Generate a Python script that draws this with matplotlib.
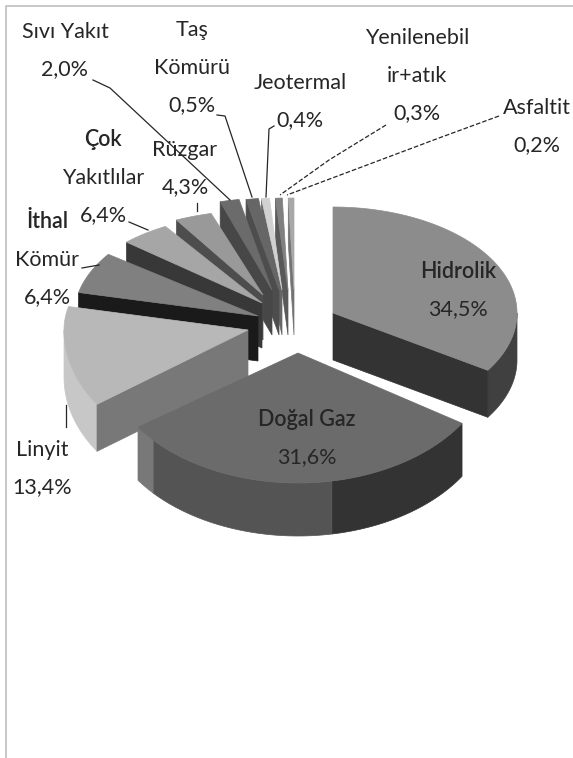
import numpy as np
import matplotlib
matplotlib.use("Agg")
import matplotlib.pyplot as plt
from matplotlib.patches import Polygon

plt.rcParams['font.family'] = ['Lato', 'DejaVu Sans']

# printed shares
labels = ["Hidrolik", "Doğal Gaz", "Linyit", "İthal\nKömür", "Çok\nYakıtlılar", "Rüzgar",
          "Sıvı Yakıt", "Taş\nKömürü", "Jeotermal", "Yenilenebil\nir+atık", "Asfaltit"]
values = [34.5, 31.6, 13.4, 6.4, 6.4, 4.3, 2.0, 0.5, 0.4, 0.3, 0.2]
# the source draws the thin slices wider than they are printed
drawn_values = [34.5, 31.6, 13.4, 6.4, 6.4, 4.3, 1.7, 1.1, 0.7, 0.6, 0.5]

# look of the slices
top_shade = [.55, .42, .72, .50, .65, .60, .42, .40, .82, .50, .66]
wall_shade = [.20, .33, .47, .10, .22, .30, .28, .30, .40, .35, .45]
outer_shade = [.25, .33, .78, .30, .50, .50, .45, .45, .60, .50, .60]
shift_x = [39, 4, -46, -36, -32, -31, -22, -15, -12, -6, 0]
shift_y = [-17, 23, 0, -14, -27, -35, -40, -40, -40, -40, -40]
slice_gap = [0, 0, 0, 0, 7, 3.6, 0, 0, 0, 0, 0]
slice_rx = [184, 195, 184, 184, 184, 184, 184, 184, 184, 184, 184]
slice_ry_back = [106, 106, 106, 106, 90, 85, 92, 92, 92, 92, 92]
slice_ry_front = [106, 130, 130, 130, 130, 130, 130, 130, 130, 130, 130]
slice_depth = [47, 53, 47, 45, 45, 45, 45, 45, 45, 45, 45]
label_pos = [(458, 272), (307, 420), (42, 450), (47, 222), (103, 140), (185, 150),
             (65, 32), (192, 30), (300, 83), (417, 38), (537, 108)]
strong_lines = {0: [0], 1: [0], 3: [0], 4: [0]}

center_x, center_y = 294, 330
line_step = 37.5

leaders = [([93, 110, 230], [80, 88, 200], '-'),
           ([217, 225, 252], [115, 116, 197], '-'),
           ([274, 269, 266], [126, 129, 197], '-'),
           ([386, 329, 280], [125, 160, 195], '--'),
           ([499, 439, 287], [116, 138, 195], '--'),
           ([129, 148], [222, 230], '-'),
           ([197, 197], [203, 211], '-'),
           ([82, 99], [268, 265], '-'),
           ([66, 66], [405, 427], '-')]


def rim(i, angles, cx, cy):
    a = np.radians(angles)
    ry = np.where(np.cos(a) > 0, slice_ry_back[i], slice_ry_front[i])
    return cx + slice_rx[i] * np.sin(a), cy - ry * np.cos(a)


def draw_slice(ax, i, start, end):
    cx = center_x + shift_x[i]
    cy = center_y + shift_y[i]
    depth = slice_depth[i]
    start = start + slice_gap[i]
    grey = lambda s: (s, s, s)

    # outer wall, only the part that faces the viewer
    lo, hi = max(start, 90), min(end, 270)
    if hi > lo:
        # Doğal Gaz has three tones along its rim
        breaks = [lo, 170, 228, hi] if i == 1 else [lo, hi]
        shades = [.20, .33, .47] if i == 1 else [outer_shade[i]]
        for (a0, a1), s in zip(zip(breaks[:-1], breaks[1:]), shades):
            xs, ys = rim(i, np.linspace(a0, a1, 60), cx, cy)
            pts = np.r_[np.c_[xs, ys], np.c_[xs, ys + depth][::-1]]
            ax.add_patch(Polygon(pts, fc=grey(s), ec=grey(s), lw=.5))

    # flat cut wall, whichever one faces the viewer
    if i == 0:
        cut = end
    elif start > 180:
        cut = start
    else:
        cut = None
    if cut is not None:
        xe, ye = rim(i, np.array([cut]), cx, cy)
        pts = [(cx, cy), (xe[0], ye[0]), (xe[0], ye[0] + depth), (cx, cy + depth)]
        ax.add_patch(Polygon(pts, fc=grey(wall_shade[i]), ec=grey(wall_shade[i]), lw=.5))

    xs, ys = rim(i, np.linspace(start, end, 120), cx, cy)
    pts = np.r_[[(cx, cy)], np.c_[xs, ys]]
    ax.add_patch(Polygon(pts, fc=grey(top_shade[i]), ec=grey(top_shade[i]), lw=.5))


fig = plt.figure(figsize=(5.73, 7.58), dpi=100)
ax = fig.add_axes([0, 0, 1, 1])
ax.set_xlim(0, 573)
ax.set_ylim(758, 0)
ax.axis('off')

# frame of the screenshot
ax.plot([6, 6, 573], [758, 6, 6], color='0.75', lw=1.2)

edges = np.r_[0, np.cumsum(drawn_values)] / sum(drawn_values) * 360

# back slices first, then the three big ones
for i in [10, 9, 8, 7, 6, 5, 4, 3, 2, 0, 1]:
    draw_slice(ax, i, edges[i], edges[i + 1])

for xs, ys, style in leaders:
    ax.plot(xs, ys, color='0.15', lw=.9, ls=style, zorder=5)

for i, name in enumerate(labels):
    lines = name.split("\n") + [f"{values[i]:.1f}%".replace(".", ",")]
    x, y = label_pos[i]
    for k, line in enumerate(lines):
        bold = k in strong_lines.get(i, []) and k < len(lines) - 1
        ax.text(x, y + k * line_step, line, ha='center', va='center', fontsize=15.5,
                color='0.15', zorder=6, fontweight='semibold' if bold else 'normal')

fig.savefig("out.png", dpi=100, facecolor='white')
